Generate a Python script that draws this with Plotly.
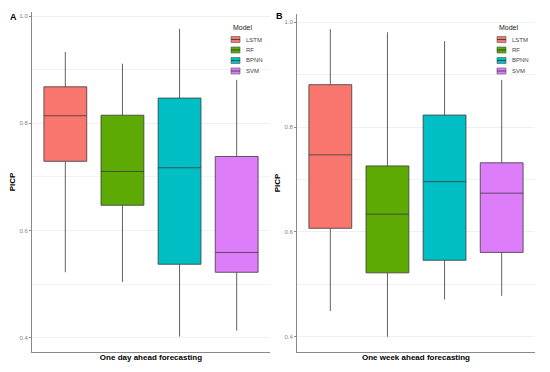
import plotly.graph_objects as go

models = ["LSTM", "RF", "BPNN", "SVM"]
model_colors = ["#F8766D", "#5DAA05", "#00BFC4", "#DE7DFA"]

panel_titles = ["One day ahead forecasting", "One week ahead forecasting"]
panel_labels = ["A", "B"]
legend_title = "Model"
y_ticks = [0.4, 0.6, 0.8, 1.0]
y_tick_text = ["0.4", "0.6", "0.8", "1.0"]

day_upper = [0.933, 0.911, 0.976, 0.881]
day_q3 = [0.868, 0.815, 0.847, 0.738]
day_median = [0.814, 0.710, 0.717, 0.559]
day_q1 = [0.729, 0.647, 0.537, 0.522]
day_lower = [0.522, 0.504, 0.402, 0.413]

week_upper = [0.987, 0.981, 0.964, 0.890]
week_q3 = [0.881, 0.726, 0.823, 0.732]
week_median = [0.747, 0.634, 0.696, 0.674]
week_q1 = [0.607, 0.522, 0.546, 0.561]
week_lower = [0.449, 0.400, 0.471, 0.478]

panels = [
    (day_lower, day_q1, day_median, day_q3, day_upper),
    (week_lower, week_q1, week_median, week_q3, week_upper),
]

W, H = 550, 372
FONT = "Arial, Liberation Sans, sans-serif"
fig = go.Figure()

for p, (lo, q1, med, q3, up) in enumerate(panels):
    xa = "x" if p == 0 else "x2"
    ya = "y" if p == 0 else "y2"
    for i, m in enumerate(models):
        fig.add_trace(go.Box(
            name=m,
            x=[panel_titles[p]],
            lowerfence=[lo[i]], q1=[q1[i]], median=[med[i]], q3=[q3[i]], upperfence=[up[i]],
            fillcolor=model_colors[i],
            line=dict(color="#3a3a3a", width=0.8),
            whiskerwidth=0,
            xaxis=xa, yaxis=ya,
            offsetgroup=m,
            showlegend=False,
            hoverinfo="skip",
        ))

axis_common = dict(
    showline=True, linecolor="#8a8a8a", linewidth=1,
    zeroline=False, automargin=False,
)
yaxis_common = dict(
    **axis_common,
    tickvals=y_ticks, ticktext=y_tick_text,
    ticks="outside", ticklen=2, tickcolor="#8a8a8a",
    tickfont=dict(size=6, color="#7f7f7f", family=FONT),
    showgrid=True, gridcolor="#f0f0f0", gridwidth=0.8,
    minor=dict(tickvals=[0.5, 0.7, 0.9], showgrid=True, gridcolor="#f3f3f3", gridwidth=0.6, ticks=""),
    title=dict(text="<b>PICP</b>", font=dict(size=8, color="#000000", family=FONT), standoff=2),
)
xaxis_common = dict(
    **axis_common,
    showticklabels=False, ticks="", showgrid=False,
    range=[-0.5, 0.5],
)

# manual ggplot-style legends (one per panel)
shapes = []
annotations = []
legend_left_px = [231, 497]
legend_title_y = 27
legend_row0_y = 39.5
legend_row_step = 10.5
key_w, key_h = 9, 6
for p in range(2):
    lx = legend_left_px[p]
    annotations.append(dict(text=legend_title, x=lx / W, y=1 - legend_title_y / H,
                            xref="paper", yref="paper", showarrow=False,
                            xanchor="left", yanchor="middle",
                            font=dict(size=7, color="#222", family=FONT)))
    for i, m in enumerate(models):
        cy = legend_row0_y + i * legend_row_step
        shapes.append(dict(type="rect", xref="paper", yref="paper",
                           x0=lx / W, x1=(lx + key_w) / W,
                           y0=1 - (cy - key_h / 2) / H, y1=1 - (cy + key_h / 2) / H,
                           fillcolor=model_colors[i], line=dict(color="#555", width=0.6)))
        shapes.append(dict(type="line", xref="paper", yref="paper",
                           x0=lx / W, x1=(lx + key_w) / W,
                           y0=1 - cy / H, y1=1 - cy / H,
                           line=dict(color="#333", width=0.8)))
        annotations.append(dict(text=m, x=(lx + key_w + 4) / W, y=1 - cy / H,
                                xref="paper", yref="paper", showarrow=False,
                                xanchor="left", yanchor="middle",
                                font=dict(size=6, color="#444", family=FONT)))

annotations += [
    dict(text="<b>" + panel_labels[0] + "</b>", x=13 / W, y=1 - 17 / H, xref="paper", yref="paper",
         showarrow=False, font=dict(size=9, color="#000", family=FONT), xanchor="center", yanchor="middle"),
    dict(text="<b>" + panel_labels[1] + "</b>", x=279 / W, y=1 - 16 / H, xref="paper", yref="paper",
         showarrow=False, font=dict(size=9, color="#000", family=FONT), xanchor="center", yanchor="middle"),
]

fig.update_layout(
    width=W, height=H,
    paper_bgcolor="white", plot_bgcolor="white",
    margin=dict(l=0, r=0, t=0, b=0),
    boxmode="group", boxgap=0.04, boxgroupgap=0.25,
    font=dict(family=FONT),
    showlegend=False,
    xaxis=dict(**xaxis_common, domain=[32 / W, 270 / W], anchor="y",
               title=dict(text="<b>" + panel_titles[0] + "</b>", font=dict(size=8, color="#000"), standoff=2)),
    yaxis=dict(**yaxis_common, domain=[1 - 352 / H, 1 - 12 / H], anchor="x", range=[0.3733, 1.0075]),
    xaxis2=dict(**xaxis_common, domain=[297 / W, 535 / W], anchor="y2",
                title=dict(text="<b>" + panel_titles[1] + "</b>", font=dict(size=8, color="#000"), standoff=2)),
    yaxis2=dict(**yaxis_common, domain=[1 - 352 / H, 1 - 14 / H], anchor="x2", range=[0.371, 1.0158]),
    shapes=shapes,
    annotations=annotations,
)

fig.write_html("out.html",
               config={"displayModeBar": False},
               post_script="document.body.style.margin='0';document.body.style.padding='0';")
